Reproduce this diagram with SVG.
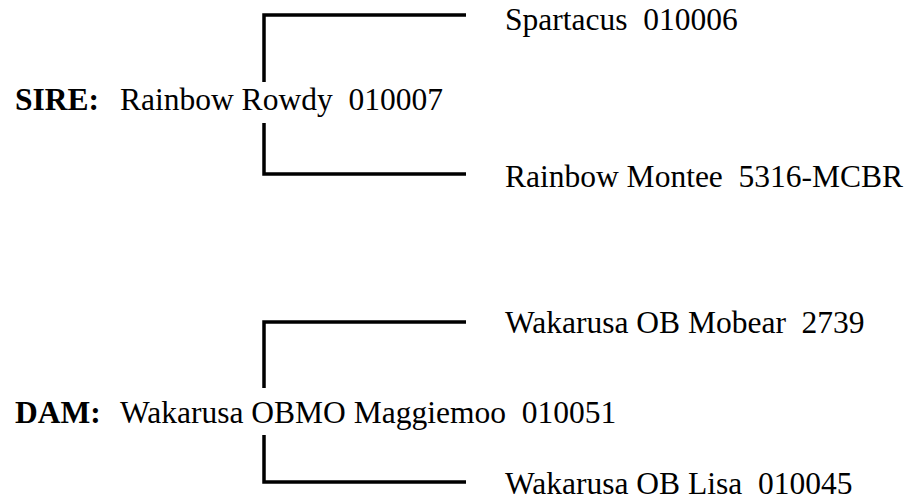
<svg xmlns="http://www.w3.org/2000/svg" width="911" height="503" viewBox="0 0 911 503">
<style>
text{font-family:"Liberation Serif","Times New Roman",serif;font-size:31.5px;fill:#000;white-space:pre}
.b{font-weight:bold}
.c{fill:none;stroke:#000;stroke-width:3.5;stroke-linecap:butt;stroke-linejoin:miter}
</style>
<rect width="911" height="503" fill="#fff"/>
<g id="connectors">
<path class="c" d="M466,15 H264 V82"/>
<path class="c" d="M264,123 V174 H466"/>
<path class="c" d="M466,322 H264 V388"/>
<path class="c" d="M264,435 V482 H466"/>
</g>
<g id="sire"><text class="b" x="15" y="110">SIRE:</text><text x="120" y="110">Rainbow Rowdy  010007</text></g>
<g id="sire-sire"><text x="505" y="30">Spartacus  010006</text></g>
<g id="sire-dam"><text x="505" y="187">Rainbow Montee  5316-MCBR</text></g>
<g id="dam"><text class="b" x="15" y="423">DAM:</text><text x="120" y="423">Wakarusa OBMO Maggiemoo  010051</text></g>
<g id="dam-sire"><text x="505" y="333">Wakarusa OB Mobear  2739</text></g>
<g id="dam-dam"><text x="505" y="494">Wakarusa OB Lisa  010045</text></g>
</svg>
